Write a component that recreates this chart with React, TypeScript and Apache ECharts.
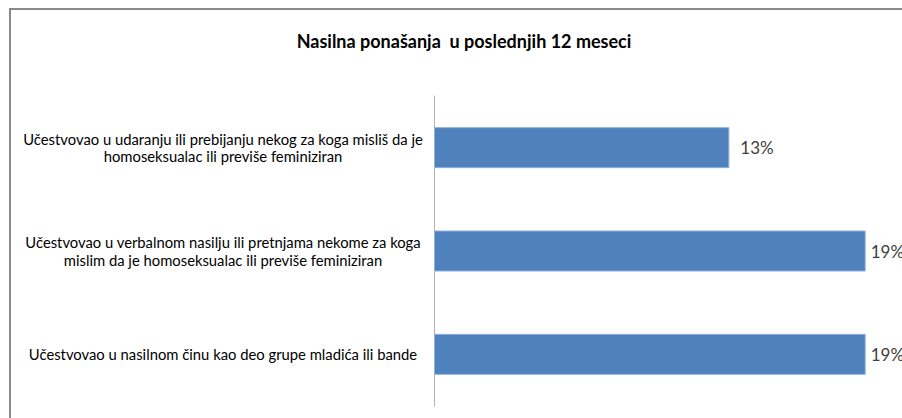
import React, { useEffect, useRef } from "react";
import * as echarts from "echarts";

const title = "Nasilna ponašanja  u poslednjih 12 meseci";
const categories = [
  "Učestvovao u udaranju ili prebijanju nekog za koga misliš da je\nhomoseksualac ili previše feminiziran",
  "Učestvovao u verbalnom nasilju ili pretnjama nekome za koga\nmislim da je homoseksualac ili previše feminiziran",
  "Učestvovao u nasilnom činu kao deo grupe mladića ili bande",
];
const values = [13, 19, 19];
const labelGaps = [11, 5, 5];

export default function App() {
  const ref = useRef<HTMLDivElement>(null);
  useEffect(() => {
    if (!ref.current) return;
    const chart = echarts.init(ref.current, null, { renderer: "svg" });
    chart.setOption({
      animation: false,
      backgroundColor: "#ffffff",
      title: {
        text: title,
        left: 459,
        textAlign: "center",
        top: 27,
        textStyle: { fontFamily: "Lato", fontSize: 18, fontWeight: "bold", color: "#000000" },
      },
      graphic: [
        {
          type: "rect",
          shape: { x: 10, y: 9, width: 1000, height: 600 },
          style: { fill: "none", stroke: "#8a8a8a", lineWidth: 2 },
          silent: true,
        },
      ],
      grid: { left: 434, top: 96, height: 310, width: 454.4 },
      xAxis: { type: "value", min: 0, max: 20, show: false },
      yAxis: {
        type: "category",
        data: categories,
        inverse: true,
        axisLine: { show: true, lineStyle: { color: "#b3b3b3", width: 1 } },
        axisTick: { show: false },
        axisLabel: {
          align: "center",
          margin: 211,
          fontFamily: "Lato",
          fontSize: 14.8,
          lineHeight: 17.5,
          color: "#000000",
        },
      },
      series: [
        {
          type: "bar",
          data: values.map((v, i) => ({ value: v, label: { distance: labelGaps[i] } })),
          barWidth: 41,
          itemStyle: { color: "#4f81bd", borderColor: "#8fb1dc", borderWidth: 1 },
          label: {
            show: true,
            position: "right",
            formatter: "{c}%",
            fontFamily: "Lato",
            fontSize: 17,
            color: "#404040",
          },
        },
      ],
    });
    return () => chart.dispose();
  }, []);
  return <div ref={ref} style={{ position: "absolute", left: 0, top: 0, width: 902, height: 418 }} />;
}
